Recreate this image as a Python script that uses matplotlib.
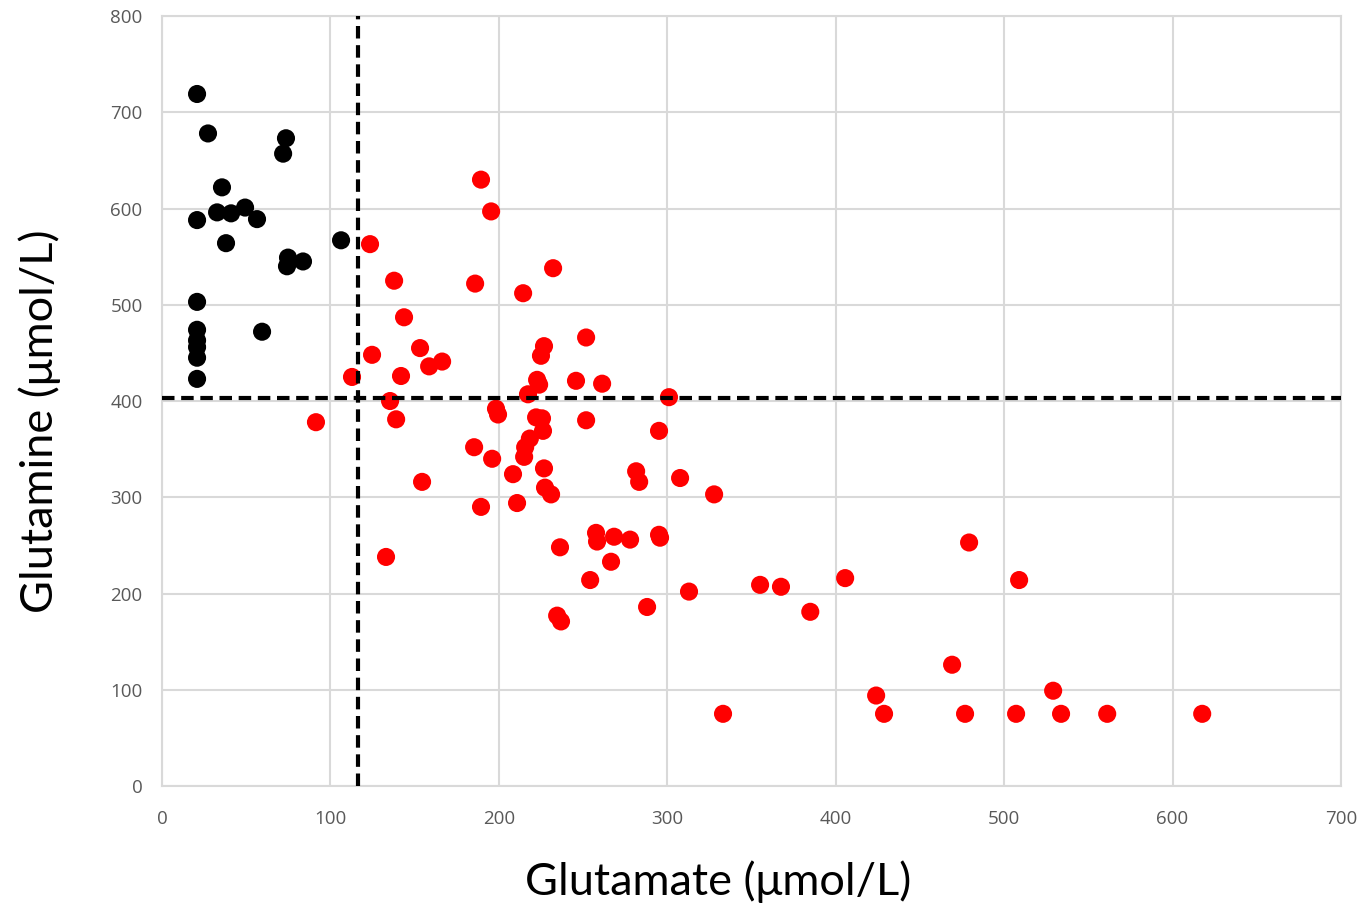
import matplotlib
matplotlib.use('Agg')
import matplotlib.pyplot as plt

# Glutamate (x) / Glutamine (y), umol/L
black_glu = [20.8, 27.3, 73.6, 71.9, 35.6, 32.7, 41.0, 49.3, 20.8, 56.4, 38.0,
             106.3, 74.8, 83.7, 74.2, 20.8, 59.4, 20.8, 20.8, 20.8, 20.8, 20.8]
black_gln = [719, 678, 673, 657, 622, 596, 595, 601, 588, 589, 564,
             567, 549, 545, 540, 503, 472, 474, 463, 456, 445, 423]

red_glu = [123.5, 189.4, 195.4, 137.8, 185.9, 214.4, 232.2, 143.7, 251.8, 226.8,
           153.2, 124.7, 225.0, 166.3, 158.6, 141.9, 112.8, 245.8, 261.3, 222.7,
           223.9, 217.3, 135.4, 301.0, 91.4, 198.3, 199.5, 251.8, 139.0, 222.1,
           225.6, 218.4, 226.2, 295.1, 185.3, 215.6, 215.0, 196.0, 208.4, 226.8,
           281.5, 283.3, 307.6, 154.4, 227.4, 231.0, 327.8, 189.4, 210.8, 133.0,
           236.3, 257.7, 258.3, 268.4, 277.9, 295.1, 295.7, 266.6, 254.2, 234.6,
           236.9, 288.0, 312.9, 355.1, 367.5, 384.9, 405.6, 479.2, 508.9, 469.1,
           424.0, 428.7, 333.1, 476.8, 507.1, 529.1, 533.8, 561.2, 617.6]
red_gln = [563, 630, 597, 525, 522, 512, 538, 487, 466, 457,
           455, 448, 447, 441, 436, 426, 425, 421, 418, 422,
           417, 407, 400, 404, 378, 392, 386, 380, 381, 383,
           382, 361, 369, 369, 352, 352, 342, 340, 324, 330,
           327, 316, 320, 316, 310, 303, 303, 290, 294, 238,
           248, 263, 254, 259, 256, 261, 258, 233, 214, 177,
           171, 186, 202, 209, 207, 181, 216, 253, 214, 126,
           94, 75, 75, 75, 75, 99, 75, 75, 75]

glu_cutoff = 116.4
gln_cutoff = 403

plt.rcParams['font.family'] = ['Open Sans', 'DejaVu Sans']

fig = plt.figure(figsize=(13.65, 9.11), dpi=100)
ax = fig.add_axes([0.1187, 0.1372, 0.8637, 0.8452])

ax.scatter(black_glu, black_gln, s=170, c='black', edgecolors='none', zorder=3)
ax.scatter(red_glu, red_gln, s=170, c='#ff0000', edgecolors='none', zorder=3)

ax.axvline(glu_cutoff, color='black', lw=3, ls=(0, (3, 1.6)), zorder=4)
ax.axhline(gln_cutoff, color='black', lw=3, ls=(0, (3, 1.6)), zorder=4)

ax.set_xlim(0, 700)
ax.set_ylim(0, 800)
ax.set_xticks(range(0, 701, 100))
ax.set_yticks(range(0, 801, 100))
ax.grid(True, color='#d9d9d9', lw=1.5, zorder=0)
for sp in ax.spines.values():
    sp.set_color('#d9d9d9')
    sp.set_linewidth(1.5)
ax.tick_params(length=0, labelsize=13.5, labelcolor='#595959')
ax.tick_params(axis='x', pad=17)
ax.tick_params(axis='y', pad=14)

lab_font = ['Lato', 'DejaVu Sans']
ax.set_xlabel('Glutamate (μmol/L)', fontsize=32.5, family=lab_font, va='center')
ax.xaxis.set_label_coords(0.4716, -0.1245)
ax.set_ylabel('Glutamine (μmol/L)', fontsize=32.5, family=lab_font, va='center')
ax.yaxis.set_label_coords(-0.104, 0.474)

fig.savefig('out.png', dpi=100)
